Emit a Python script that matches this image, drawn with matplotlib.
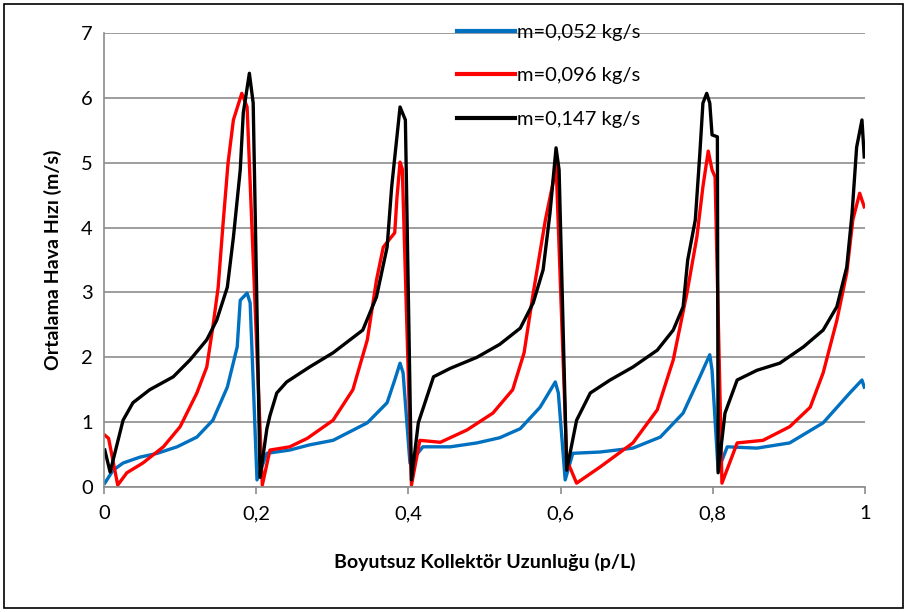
import matplotlib
matplotlib.use("Agg")
import matplotlib.pyplot as plt
from matplotlib.patches import Rectangle
from matplotlib.ticker import FuncFormatter

plt.rcParams['font.family'] = ['Lato', 'DejaVu Sans']

# values (p/L, mean air velocity m/s)
x_052 = [0.001, 0.012, 0.025, 0.047, 0.07, 0.096, 0.122, 0.143, 0.162, 0.175, 0.179, 0.188, 0.192,
         0.201, 0.214, 0.244, 0.27, 0.301, 0.346, 0.372, 0.382, 0.389, 0.393,
         0.402, 0.419, 0.455, 0.49, 0.52, 0.547, 0.573, 0.593, 0.597,
         0.606, 0.616, 0.652, 0.695, 0.731, 0.761, 0.783, 0.796, 0.799,
         0.807, 0.819, 0.858, 0.901, 0.945, 0.98, 0.996, 0.999]
y_052 = [0.06, 0.26, 0.37, 0.46, 0.52, 0.62, 0.77, 1.03, 1.54, 2.16, 2.88, 2.99, 2.84,
         0.11, 0.52, 0.57, 0.65, 0.72, 0.99, 1.3, 1.65, 1.91, 1.76,
         0.37, 0.62, 0.62, 0.68, 0.76, 0.9, 1.23, 1.62, 1.45,
         0.11, 0.52, 0.54, 0.6, 0.77, 1.14, 1.7, 2.04, 1.8,
         0.26, 0.62, 0.6, 0.68, 0.99, 1.45, 1.65, 1.54]

x_096 = [0.001, 0.006, 0.018, 0.03, 0.051, 0.078, 0.1, 0.122, 0.135, 0.143, 0.15, 0.156, 0.163,
         0.17, 0.181, 0.188, 0.208, 0.218, 0.244, 0.267, 0.301, 0.327, 0.346, 0.358,
         0.367, 0.382, 0.385, 0.389, 0.392, 0.404, 0.415, 0.442, 0.477, 0.511, 0.537,
         0.552, 0.564, 0.58, 0.59, 0.594, 0.608, 0.621, 0.652, 0.695, 0.727, 0.748,
         0.766, 0.779, 0.787, 0.794, 0.799, 0.803, 0.812, 0.832, 0.866, 0.901, 0.928,
         0.945, 0.963, 0.976, 0.984, 0.993, 0.999]
y_096 = [0.8, 0.75, 0.03, 0.22, 0.37, 0.62, 0.93, 1.45, 1.85, 2.47, 3.08, 4.0, 5.0,
         5.66, 6.07, 5.86, 0.03, 0.57, 0.62, 0.75, 1.03, 1.5, 2.27, 3.19,
         3.7, 3.92, 4.47, 5.01, 4.9, 0.03, 0.72, 0.69, 0.88, 1.14, 1.5,
         2.07, 2.99, 4.12, 4.69, 5.0, 0.42, 0.06, 0.31, 0.68, 1.19, 1.96,
         2.99, 3.85, 4.63, 5.18, 4.89, 4.78, 0.06, 0.68, 0.72, 0.93, 1.23,
         1.76, 2.57, 3.3, 4.12, 4.53, 4.32]

x_147 = [0.001, 0.008, 0.025, 0.038, 0.06, 0.091, 0.113, 0.135, 0.148, 0.162, 0.17, 0.179, 0.183,
         0.191, 0.196, 0.205, 0.214, 0.218, 0.227, 0.24, 0.253, 0.27, 0.301, 0.34, 0.358, 0.372,
         0.378, 0.389, 0.396, 0.404, 0.413, 0.433, 0.455, 0.49, 0.52, 0.547, 0.564,
         0.577, 0.586, 0.594, 0.598, 0.608, 0.621, 0.639, 0.665, 0.695, 0.727, 0.748,
         0.761, 0.767, 0.777, 0.783, 0.787, 0.792, 0.796, 0.799, 0.806, 0.807, 0.816,
         0.832, 0.858, 0.888, 0.919, 0.945, 0.963, 0.976, 0.983, 0.989, 0.996, 0.999]
y_147 = [0.57, 0.23, 1.03, 1.3, 1.5, 1.7, 1.96, 2.27, 2.57, 3.08, 3.85, 4.89, 5.77,
         6.38, 5.92, 0.15, 0.9, 1.1, 1.45, 1.62, 1.72, 1.85, 2.07, 2.42, 2.93, 3.7,
         4.63, 5.86, 5.66, 0.11, 0.99, 1.7, 1.83, 2.0, 2.2, 2.45, 2.84,
         3.35, 4.22, 5.23, 4.89, 0.26, 1.03, 1.45, 1.65, 1.85, 2.11, 2.42,
         2.78, 3.5, 4.12, 5.15, 5.92, 6.07, 5.92, 5.43, 5.4, 0.22, 1.14,
         1.65, 1.8, 1.91, 2.16, 2.42, 2.78, 3.39, 4.22, 5.24, 5.66, 5.09]

labels = ["m=0,052 kg/s", "m=0,096 kg/s", "m=0,147 kg/s"]
colors = ["#0070C0", "#FF0000", "#000000"]

fig = plt.figure(figsize=(9.07, 6.12), dpi=100)
ax = fig.add_axes([0.1147, 0.2042, 0.839, 0.7418])

for xs, ys, lab, c in zip([x_052, x_096, x_147], [y_052, y_096, y_147], labels, colors):
    ax.plot(xs, ys, color=c, lw=2.4, label=lab, solid_joinstyle='round')

ax.set_xlim(0, 1)
ax.set_ylim(0, 7)
ax.set_xticks([0, 0.2, 0.4, 0.6, 0.8, 1.0])
ax.set_yticks(range(8))
ax.xaxis.set_major_formatter(FuncFormatter(lambda v, p: ("%g" % round(v, 1)).replace('.', ',')))
ax.grid(axis='y', color='#8c8c8c', lw=1.2)
ax.set_axisbelow(True)
for s in ['top', 'right']:
    ax.spines[s].set_visible(False)
for s in ['left', 'bottom']:
    ax.spines[s].set_color('#8c8c8c')
    ax.spines[s].set_linewidth(1.2)
ax.tick_params(axis='both', colors='#8c8c8c', labelcolor='black', labelsize=14.5, length=5, width=1.2)
ax.tick_params(axis='y', length=0, pad=8)
ax.tick_params(axis='x', pad=8)

ax.set_xlabel("Boyutsuz Kollektör Uzunluğu (p/L)", fontsize=14, fontweight='bold', labelpad=22)
ax.set_ylabel("Ortalama Hava Hızı (m/s)", fontsize=14, fontweight='bold', labelpad=14)

leg = ax.legend(loc='upper left', bbox_to_anchor=(0.44, 1.06), frameon=False, fontsize=14.5,
                handlelength=2.9, handletextpad=0.1, labelspacing=1.3)
for h in leg.get_lines():
    h.set_linewidth(3)

fig.patches.append(Rectangle((0.004, 0.006), 0.992, 0.988, transform=fig.transFigure,
                             fill=False, edgecolor='black', lw=1.2))

fig.savefig("out.png", dpi=100)
